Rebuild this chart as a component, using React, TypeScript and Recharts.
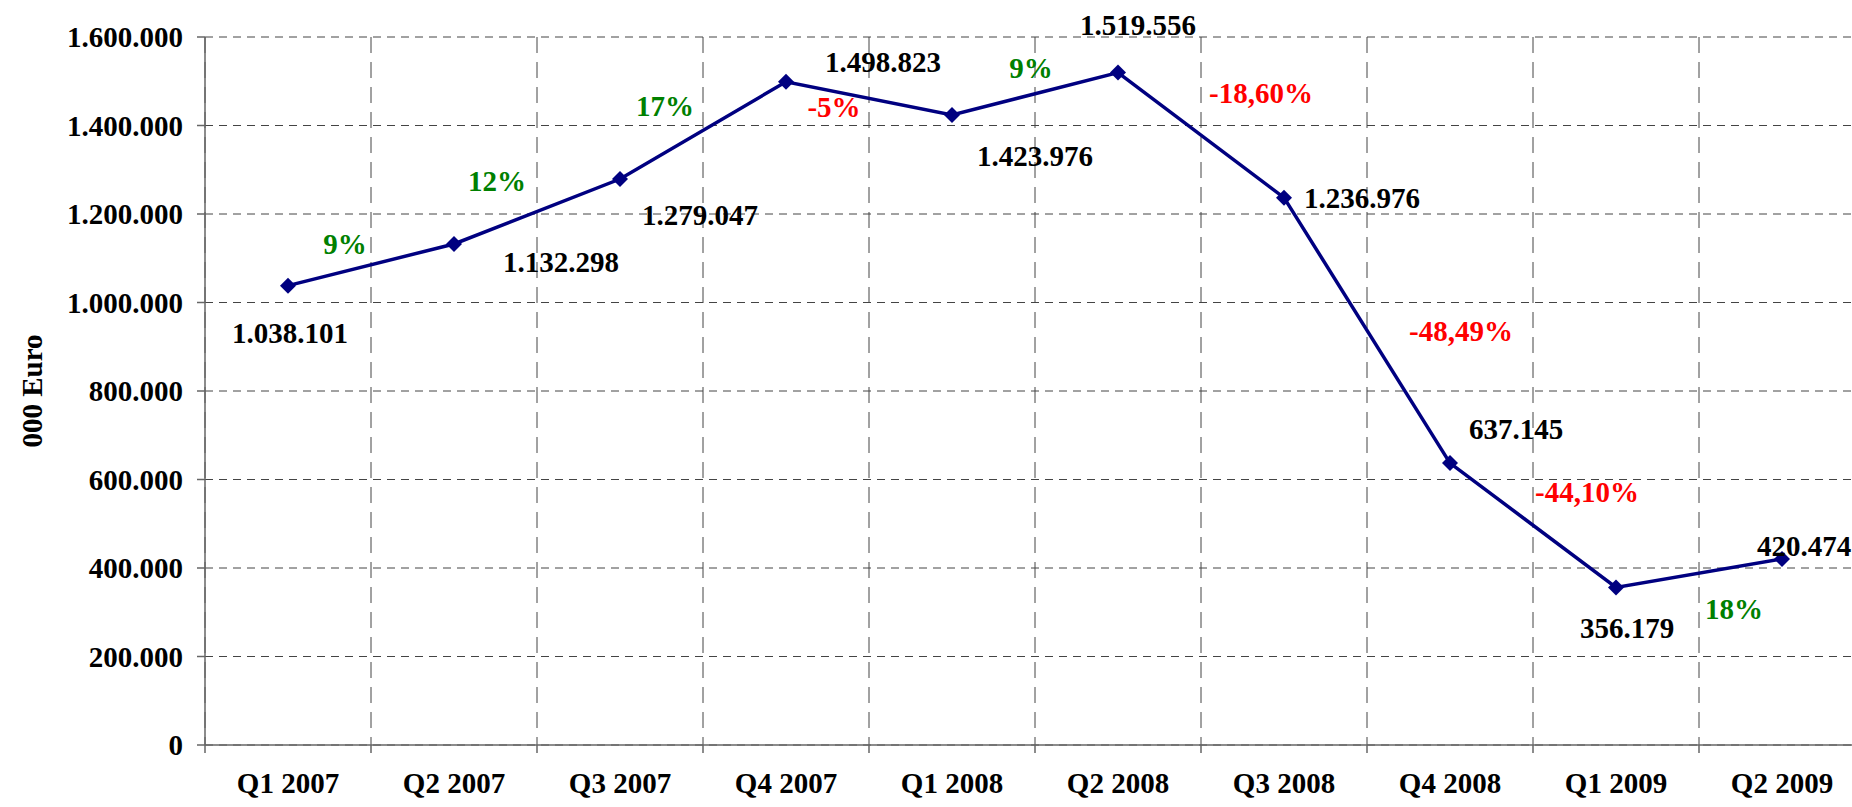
import { LineChart, Line, XAxis, YAxis, CartesianGrid, LabelList } from 'recharts';

const quarters = [
  'Q1 2007', 'Q2 2007', 'Q3 2007', 'Q4 2007', 'Q1 2008',
  'Q2 2008', 'Q3 2008', 'Q4 2008', 'Q1 2009', 'Q2 2009'
];
const values = [
  1038101, 1132298, 1279047, 1498823, 1423976,
  1519556, 1236976, 637145, 356179, 420474
];
const changes = ['9%', '12%', '17%', '-5%', '9%', '-18,60%', '-48,49%', '-44,10%', '18%'];
const yTicks = [0, 200000, 400000, 600000, 800000, 1000000, 1200000, 1400000, 1600000];

// label placement, px from the point / segment midpoint
const valueOffsets = [
  [2, 47], [107, 18], [80, 36], [97, -20], [83, 41],
  [20, -48], [78, 0], [66, -34], [11, 41], [22, -13]
];
const changeOffsets = [
  [-26, -21], [-40, -30], [-38, -24], [-35, 9], [-4, -26],
  [60, -42], [94, 1], [54, -33], [35, 36]
];

const FONT = '"Liberation Serif", "Times New Roman", serif';
const FS = 29;
const HALF_BAND = 83;

const fmt = (n: number) => String(Math.round(n)).replace(/\B(?=(\d{3})+(?!\d))/g, '.');

const data = quarters.map((q, i) => ({ x: i + 0.5, quarter: q, value: values[i] }));
const changeData = changes.map((c, i) => ({
  x: i + 1,
  mid: (values[i] + values[i + 1]) / 2,
  label: c
}));

const Diamond = (props: any) => {
  const { cx, cy, index } = props;
  if (cx == null || cy == null) return <g key={index} />;
  const s = 8;
  return (
    <path
      key={index}
      d={`M${cx},${cy - s} L${cx + s},${cy} L${cx},${cy + s} L${cx - s},${cy} Z`}
      fill="#000080"
    />
  );
};

const ValueLabel = (props: any) => {
  const { x, y, index, value } = props;
  const [dx, dy] = valueOffsets[index] || [0, 0];
  return (
    <text
      x={x + dx}
      y={y + dy}
      textAnchor="middle"
      dominantBaseline="central"
      fontFamily={FONT}
      fontWeight="bold"
      fontSize={FS}
      fill="#000"
    >
      {fmt(value)}
    </text>
  );
};

const ChangeLabel = (props: any) => {
  const { x, y, index, value } = props;
  const [dx, dy] = changeOffsets[index] || [0, 0];
  const neg = String(value).startsWith('-');
  return (
    <text
      x={x + dx}
      y={y + dy}
      textAnchor="middle"
      dominantBaseline="central"
      fontFamily={FONT}
      fontWeight="bold"
      fontSize={FS}
      fill={neg ? '#FF0000' : '#008000'}
    >
      {value}
    </text>
  );
};

const XTick = (props: any) => {
  const { x, y, payload } = props;
  const i = payload.value;
  if (i >= quarters.length) return <g />;
  return (
    <text
      x={x + HALF_BAND}
      y={y + 28}
      textAnchor="middle"
      dominantBaseline="central"
      fontFamily={FONT}
      fontWeight="bold"
      fontSize={FS}
      fill="#000"
    >
      {quarters[i]}
    </text>
  );
};

const App = () => {
  return (
    <div style={{ position: 'absolute', left: 0, top: 0, width: 1852, height: 807, overflow: 'hidden', background: '#fff' }}>
      <LineChart
        width={1880}
        height={807}
        data={data}
        margin={{ top: 37, right: 15, left: 0, bottom: 0 }}
      >
        <CartesianGrid horizontal={true} vertical={false} stroke="#444" strokeDasharray="8 6" />
        <CartesianGrid horizontal={false} vertical={true} stroke="#444" strokeDasharray="16 9" />
        <XAxis
          type="number"
          dataKey="x"
          domain={[0, 10]}
          ticks={[0, 1, 2, 3, 4, 5, 6, 7, 8, 9, 10]}
          height={62}
          tickSize={8}
          tickMargin={2}
          stroke="#666"
          strokeWidth={1.5}
          tick={<XTick />}
          interval={0}
        />
        <YAxis
          domain={[0, 1600000]}
          ticks={yTicks}
          width={205}
          tickSize={8}
          tickMargin={14}
          stroke="#666"
          strokeWidth={1.5}
          tickFormatter={fmt}
          tick={{ fill: '#000', fontSize: FS, fontWeight: 'bold', fontFamily: FONT }}
          label={{
            content: (p: any) => {
              const vb = p.viewBox || { x: 0, y: 37, height: 708 };
              const cx = vb.x + 32;
              const cy = vb.y + vb.height / 2;
              return (
                <text
                  x={cx}
                  y={cy}
                  transform={`rotate(-90 ${cx} ${cy})`}
                  textAnchor="middle"
                  dominantBaseline="central"
                  fontFamily={FONT}
                  fontWeight="bold"
                  fontSize={FS}
                  fill="#000"
                >
                  000 Euro
                </text>
              );
            }
          }}
        />
        <Line
          type="linear"
          dataKey="value"
          stroke="#000080"
          strokeWidth={3.5}
          dot={Diamond}
          activeDot={false}
          isAnimationActive={false}
        >
          <LabelList dataKey="value" content={ValueLabel} />
        </Line>
        <Line
          type="linear"
          data={changeData}
          dataKey="mid"
          stroke="none"
          dot={false}
          activeDot={false}
          isAnimationActive={false}
        >
          <LabelList dataKey="label" content={ChangeLabel} />
        </Line>
      </LineChart>
    </div>
  );
};

export default App;
